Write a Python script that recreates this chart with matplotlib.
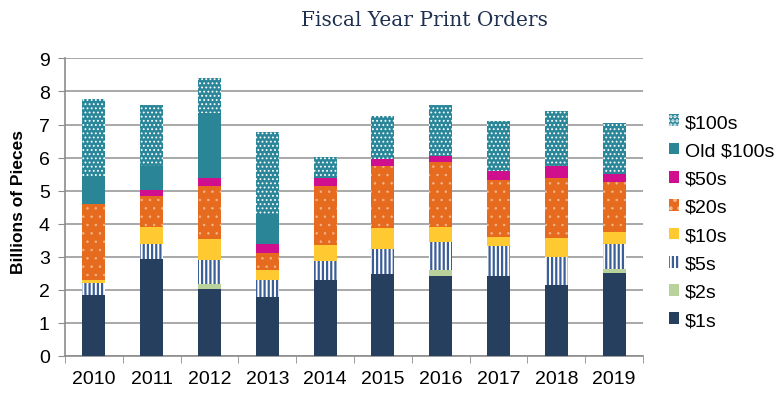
#!/usr/bin/env python3
"""Fiscal year print orders, stacked by denomination."""

import numpy as np
import matplotlib
matplotlib.use('Agg')
import matplotlib.pyplot as plt

years = ['2010', '2011', '2012', '2013', '2014', '2015', '2016', '2017', '2018', '2019']

# billions of pieces
ones = [1.84, 2.92, 2.03, 1.79, 2.29, 2.46, 2.41, 2.40, 2.15, 2.49]
twos = [0.00, 0.00, 0.13, 0.00, 0.00, 0.00, 0.19, 0.00, 0.00, 0.15]
fives = [0.37, 0.47, 0.73, 0.49, 0.58, 0.78, 0.83, 0.93, 0.84, 0.74]
tens = [0.07, 0.51, 0.64, 0.30, 0.49, 0.64, 0.47, 0.27, 0.58, 0.36]
twenties = [2.31, 0.93, 1.60, 0.52, 1.78, 1.86, 1.95, 1.71, 1.82, 1.53]
fifties = [0.00, 0.18, 0.24, 0.27, 0.25, 0.23, 0.21, 0.28, 0.36, 0.24]
old_hundreds = [0.85, 0.74, 1.99, 0.91, 0.00, 0.00, 0.00, 0.00, 0.00, 0.00]
hundreds = [2.32, 1.85, 1.04, 2.48, 0.63, 1.28, 1.53, 1.53, 1.67, 1.55]

# label, values, face, hatch, hatch colour, hatch linewidth
series = [
    ('$1s', ones, '#263f5f', None, None, 1.0),
    ('$2s', twos, '#b9d19b', None, None, 1.0),
    ('$5s', fives, 'white', '||||', '#3b5e96', 1.6),
    ('$10s', tens, '#fec931', None, None, 1.0),
    ('$20s', twenties, '#e66b1f', '..', '#f3b88c', 0.5),
    ('$50s', fifties, '#cf0f8e', None, None, 1.0),
    ('Old $100s', old_hundreds, '#2a8597', None, None, 1.0),
    ('$100s', hundreds, '#2a8699', '....', 'white', 0.8),
]

fig = plt.figure(figsize=(7.78, 4.10), dpi=100)
ax = fig.add_axes([0.0835, 0.130, 0.743, 0.725])

x = np.arange(len(years))
bottom = np.zeros(len(years))
handles = []
for label, vals, color, hatch, hcolor, hlw in series:
    vals = np.array(vals)
    with plt.rc_context({'hatch.linewidth': hlw}):
        if hatch:
            b = ax.bar(x, vals, 0.4, bottom=bottom, color=color, hatch=hatch,
                       edgecolor=hcolor, linewidth=0, label=label, zorder=3)
        else:
            b = ax.bar(x, vals, 0.4, bottom=bottom, color=color,
                       linewidth=0, label=label, zorder=3)
    handles.append(b)
    bottom += vals

ax.set_xlim(-0.5, len(years) - 0.5)
ax.set_ylim(0, 9)
ax.set_yticks(range(0, 10))
ax.set_xticks(x)
ax.set_xticklabels(years, fontsize=14, family='Liberation Sans')
ax.set_xticks(np.arange(-0.5, len(years), 1.0), minor=True)
ax.tick_params(axis='x', which='major', length=0, pad=10)
ax.tick_params(axis='x', which='minor', length=5, color='#8c8c8c', direction='out')
ax.tick_params(axis='y', length=5, color='#8c8c8c', pad=6, labelsize=14)
for t in ax.get_yticklabels():
    t.set_family('Liberation Sans')

ax.grid(axis='y', color='#9a9a9a', linewidth=1.2, zorder=0)
ax.set_axisbelow(True)
for s in ['top', 'right']:
    ax.spines[s].set_visible(False)
for s in ['left', 'bottom']:
    ax.spines[s].set_color('#8c8c8c')
    ax.spines[s].set_linewidth(1.2)

ax.set_ylabel('Billions of Pieces', fontsize=12.5, fontweight='bold',
              family='Liberation Sans', labelpad=7)
ax.yaxis.set_label_coords(-0.068, 0.52)

fig.text(0.546, 0.95, 'Fiscal Year Print Orders', ha='center', va='center',
         fontsize=14.5, family='DejaVu Serif', color='#1f3050')

with plt.rc_context({'hatch.linewidth': 1.6}):
    leg = fig.legend(handles[::-1], [s[0] for s in series][::-1],
                     loc='center left', bbox_to_anchor=(0.847, 0.457),
                     frameon=False, borderpad=0,
                     handlelength=0.55, handleheight=0.55, handletextpad=0.3,
                     labelspacing=0.58, prop={'family': 'Liberation Sans', 'size': 14})

fig.savefig('out.png', dpi=100)
